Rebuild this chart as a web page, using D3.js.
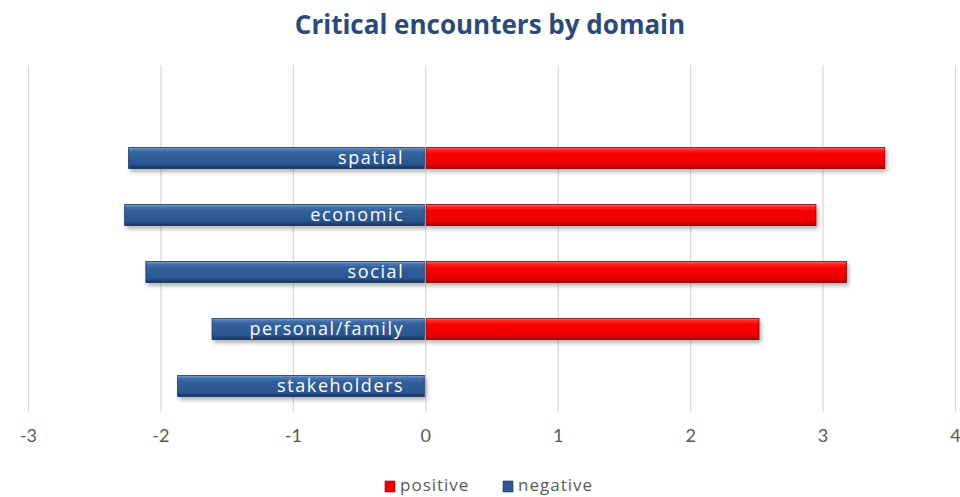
<!DOCTYPE html>
<html>
<head>
<meta charset="utf-8">
<script src="https://cdn.jsdelivr.net/npm/d3@7/dist/d3.min.js"></script>
<style>
  html, body { margin: 0; padding: 0; background: #ffffff; }
  svg { display: block; }
</style>
</head>
<body>
<script>
// Domains, top to bottom
const categories = ["spatial", "economic", "social", "personal/family", "stakeholders"];
// Mean score of positive and negative critical encounters per domain
const positiveValues = [3.47, 2.95, 3.18, 2.52, 0];
const negativeValues = [-2.24, -2.27, -2.11, -1.61, -1.87];
const tickValues = [-3, -2, -1, 0, 1, 2, 3, 4];
const seriesNames = ["positive", "negative"];

const W = 960, H = 497;
const FONT = "Lato, 'Open Sans', sans-serif";
const WIDE = "'Open Sans', Lato, sans-serif";

const svg = d3.select("body").append("svg")
  .attr("width", W).attr("height", H);

const defs = svg.append("defs");

// Bevelled bar fills
function bevel(id, stops) {
  const g = defs.append("linearGradient").attr("id", id)
    .attr("x1", 0).attr("y1", 0).attr("x2", 0).attr("y2", 1);
  stops.forEach(([o, c]) => g.append("stop").attr("offset", o).attr("stop-color", c));
}
bevel("gradNeg", [[0, "#86a8d6"], [0.12, "#4673ad"], [0.3, "#33609c"], [0.8, "#2a5590"], [1, "#17325e"]]);
bevel("gradPos", [[0, "#ff7070"], [0.12, "#ff2020"], [0.3, "#f70000"], [0.8, "#ee0000"], [1, "#a00000"]]);

const shadow = defs.append("filter").attr("id", "shadow")
  .attr("x", "-5%").attr("y", "-30%").attr("width", "115%").attr("height", "190%");
shadow.append("feDropShadow").attr("dx", 2).attr("dy", 3)
  .attr("stdDeviation", 2).attr("flood-color", "#000").attr("flood-opacity", 0.3);

// Scales
const x = d3.scaleLinear().domain([-3, 4]).range([28, 955]);
const y = d3.scaleBand().domain(categories)
  .range([129.5, 414.5]).paddingInner(0.63).paddingOuter(0.315);

const plotTop = 65, plotBottom = 412;

// Vertical gridlines and value labels
const axis = d3.axisBottom(x).tickValues(tickValues)
  .tickSize(-(plotBottom - plotTop)).tickPadding(17)
  .tickFormat(d3.format("d"));
const gAxis = svg.append("g")
  .attr("transform", `translate(0,${plotBottom})`)
  .call(axis);
gAxis.select(".domain").remove();
gAxis.selectAll(".tick line").attr("stroke", "#d9d9d9").attr("stroke-width", 1.2);
gAxis.selectAll(".tick text")
  .attr("fill", "#595959")
  .style("font-family", FONT)
  .style("font-size", "18px")
  .text(d => d < 0 ? "-" + Math.abs(d) : d);

// Bars
const bars = svg.append("g");
bars.selectAll("rect.neg").data(categories).join("rect")
  .attr("class", "neg")
  .attr("x", (d, i) => x(negativeValues[i]))
  .attr("y", d => y(d))
  .attr("width", (d, i) => x(0) - 1 - x(negativeValues[i]))
  .attr("height", y.bandwidth())
  .attr("fill", "url(#gradNeg)")
  .attr("stroke", "#1b365f").attr("stroke-width", 0.8)
  .attr("filter", "url(#shadow)");

bars.selectAll("rect.pos").data(categories.filter((d, i) => positiveValues[i] > 0)).join("rect")
  .attr("class", "pos")
  .attr("x", x(0) + 1)
  .attr("y", d => y(d))
  .attr("width", d => x(positiveValues[categories.indexOf(d)]) - x(0) - 1)
  .attr("height", y.bandwidth())
  .attr("fill", "url(#gradPos)")
  .attr("stroke", "#8a0000").attr("stroke-width", 0.8)
  .attr("filter", "url(#shadow)");

// Category names inside the negative bars
svg.append("g").selectAll("text").data(categories).join("text")
  .attr("x", x(0) - 21)
  .attr("y", d => y(d) + y.bandwidth() / 2)
  .attr("dy", "0.36em")
  .attr("text-anchor", "end")
  .attr("fill", "#ffffff")
  .style("font-family", WIDE)
  .style("font-size", "18px")
  .style("letter-spacing", "1.6px")
  .text(d => d);

// Title
svg.append("text")
  .attr("x", 490).attr("y", 34)
  .attr("text-anchor", "middle")
  .attr("fill", "#2a4a7c")
  .style("font-family", WIDE)
  .style("font-weight", "bold")
  .style("font-size", "26px")
  .text("Critical encounters by domain");

// Legend
const legendColors = ["#f00000", "#2d5a94"];
const legendStroke = ["#8a0000", "#1b365f"];
const legendX = [385, 503];
const legend = svg.append("g");
seriesNames.forEach((name, i) => {
  legend.append("rect")
    .attr("x", legendX[i]).attr("y", 481)
    .attr("width", 10).attr("height", 11)
    .attr("fill", legendColors[i])
    .attr("stroke", legendStroke[i]).attr("stroke-width", 0.6);
  legend.append("text")
    .attr("x", legendX[i] + 15).attr("y", 491)
    .attr("fill", "#595959")
    .style("font-family", WIDE)
    .style("font-size", "17px")
    .style("letter-spacing", "1px")
    .text(name);
});
</script>
</body>
</html>
